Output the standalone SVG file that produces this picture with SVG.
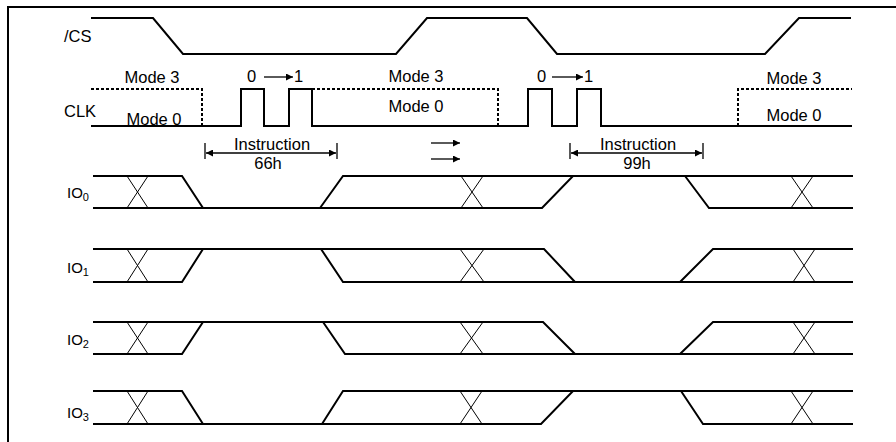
<svg xmlns="http://www.w3.org/2000/svg" width="896" height="442" viewBox="0 0 896 442">
<style>
.bg{fill:#fff}
.frame{fill:none;stroke:#000;stroke-width:2}
.sig{fill:none;stroke:#000;stroke-width:2;stroke-linejoin:miter}
.dot{fill:none;stroke:#000;stroke-width:2;stroke-dasharray:3 2}
.x{fill:none;stroke:#000;stroke-width:1}
.arr{fill:none;stroke:#000;stroke-width:1.3}
.bar{fill:none;stroke:#000;stroke-width:1.3}
text{font-family:"Liberation Sans",Arial,sans-serif;font-size:16.5px;fill:#000}
.c{text-anchor:middle}
.io{font-size:15px}
.sub{font-size:11px}
</style>
<defs>
<marker id="ah" viewBox="0 0 10 10" refX="10" refY="5" markerWidth="10" markerHeight="7" markerUnits="userSpaceOnUse" orient="auto-start-reverse">
<path d="M0,0 L10,5 L0,10 z" fill="#000"/>
</marker>
</defs>
<rect class="bg" x="0" y="0" width="896" height="442"/>
<path class="frame" d="M8,442 V7 H896"/>

<g id="cs">
<text x="64" y="42">/CS</text>
<path class="sig" d="M91,18 H153 L183,54 H396 L427,18 H527 L557,54 H765 L799,18 H851"/>
</g>

<g id="clk">
<text x="64" y="117">CLK</text>
<path class="sig" d="M91,126 H241 V89 H264 V126 H289 V89 H312 V126 H528 V89 H552 V126 H577 V89 H601 V126 H852"/>
<path class="dot" d="M91,89 H202 V126"/>
<path class="dot" d="M312,89 H498 V126"/>
<path class="dot" d="M738,126 V89 H852"/>
<text class="c" x="152" y="83">Mode 3</text>
<text class="c" x="154" y="125">Mode 0</text>
<text class="c" x="416" y="82">Mode 3</text>
<text class="c" x="416" y="112">Mode 0</text>
<text class="c" x="794" y="84">Mode 3</text>
<text class="c" x="794" y="121">Mode 0</text>
<text x="247" y="82">0</text>
<text x="294" y="82">1</text>
<text x="537" y="82">0</text>
<text x="584" y="82">1</text>
</g>

<g id="connectors">
<line class="arr" x1="264" y1="77" x2="293" y2="77" marker-end="url(#ah)"/>
<line class="arr" x1="552" y1="77" x2="583" y2="77" marker-end="url(#ah)"/>
<line class="bar" x1="205" y1="143" x2="205" y2="159"/>
<line class="bar" x1="337" y1="143" x2="337" y2="159"/>
<line class="arr" x1="206" y1="153" x2="336" y2="153" marker-start="url(#ah)" marker-end="url(#ah)"/>
<line class="bar" x1="570" y1="143" x2="570" y2="159"/>
<line class="bar" x1="703" y1="143" x2="703" y2="159"/>
<line class="arr" x1="571" y1="153" x2="702" y2="153" marker-start="url(#ah)" marker-end="url(#ah)"/>
<line class="arr" x1="431" y1="143" x2="460" y2="143" marker-end="url(#ah)"/>
<line class="arr" x1="431" y1="159" x2="460" y2="159" marker-end="url(#ah)"/>
</g>

<g id="instr1">
<text class="c" x="272" y="150">Instruction</text>
<text class="c" x="268" y="169">66h</text>
</g>
<g id="instr2">
<text class="c" x="638" y="150">Instruction</text>
<text class="c" x="637" y="169">99h</text>
</g>

<g id="io0">
<text class="io" x="67" y="198">IO<tspan class="sub" dy="3">0</tspan></text>
<path class="sig" d="M93,176 H182 L203,208"/>
<path class="sig" d="M93,208 H542 L573,176 H853"/>
<path class="sig" d="M320,208 L343,176 H573"/>
<path class="sig" d="M685,176 L709,208 H853"/>
<path class="x" d="M127,176 L148,208 M127,208 L148,176 M461,176 L483,208 M461,208 L483,176 M791,176 L813,208 M791,208 L813,176"/>
</g>

<g id="io1">
<text class="io" x="67" y="273">IO<tspan class="sub" dy="3">1</tspan></text>
<path class="sig" d="M93,249 H544 L575,282"/>
<path class="sig" d="M93,282 H182 L203,249"/>
<path class="sig" d="M321,249 L343,282 H853"/>
<path class="sig" d="M680,282 L713,249 H853"/>
<path class="x" d="M127,249 L148,282 M127,282 L148,249 M460,249 L484,282 M460,282 L484,249 M793,249 L815,282 M793,282 L815,249"/>
</g>

<g id="io2">
<text class="io" x="67" y="345">IO<tspan class="sub" dy="3">2</tspan></text>
<path class="sig" d="M93,322 H543 L575,354"/>
<path class="sig" d="M93,354 H182 L203,322"/>
<path class="sig" d="M323,322 L345,354 H853"/>
<path class="sig" d="M680,354 L713,322 H853"/>
<path class="x" d="M127,322 L148,354 M127,354 L148,322 M460,322 L483,354 M460,354 L483,322 M793,322 L815,354 M793,354 L815,322"/>
</g>

<g id="io3">
<text class="io" x="67" y="418">IO<tspan class="sub" dy="3">3</tspan></text>
<path class="sig" d="M93,391 H182 L203,424"/>
<path class="sig" d="M93,424 H541 L573,391 H853"/>
<path class="sig" d="M322,424 L343,391 H573"/>
<path class="sig" d="M681,391 L703,424 H853"/>
<path class="x" d="M127,391 L148,424 M127,424 L148,391 M460,391 L482,424 M460,424 L482,391 M791,391 L813,424 M791,424 L813,391"/>
</g>
</svg>
